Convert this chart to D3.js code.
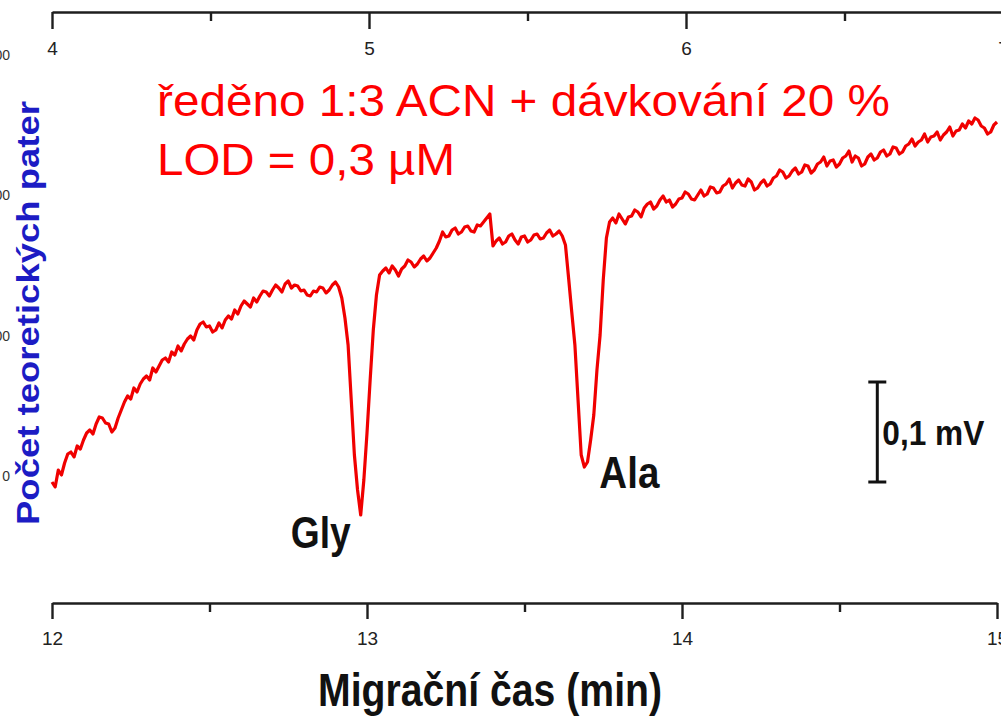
<!DOCTYPE html>
<html>
<head>
<meta charset="utf-8">
<script src="https://cdn.jsdelivr.net/npm/d3@7"></script>
<style>
  body { margin: 0; background: #fff; }
  svg { display: block; font-family: "Liberation Sans", Arial, sans-serif; }
</style>
</head>
<body>
<script>
//migration time of every sample (min)
var sampleTime = [
  12.00,12.01,12.02,12.03,12.04,12.05,12.06,12.07,12.08,12.09,
  12.10,12.11,12.12,12.13,12.14,12.15,12.16,12.17,12.18,12.19,
  12.20,12.21,12.22,12.23,12.24,12.25,12.26,12.27,12.28,12.29,
  12.30,12.31,12.32,12.33,12.34,12.35,12.36,12.37,12.38,12.39,
  12.40,12.41,12.42,12.43,12.44,12.45,12.46,12.47,12.48,12.49,
  12.50,12.51,12.52,12.53,12.54,12.55,12.56,12.57,12.58,12.59,
  12.60,12.61,12.62,12.63,12.64,12.65,12.66,12.67,12.68,12.69,
  12.70,12.71,12.72,12.73,12.74,12.75,12.76,12.77,12.78,12.79,
  12.80,12.81,12.82,12.83,12.84,12.85,12.86,12.87,12.88,12.89,
  12.90,12.91,12.92,12.93,12.94,12.95,12.96,12.97,12.98,12.99,
  13.00,13.01,13.02,13.03,13.04,13.05,13.06,13.07,13.08,13.09,
  13.10,13.11,13.12,13.13,13.14,13.15,13.16,13.17,13.18,13.19,
  13.20,13.21,13.22,13.23,13.24,13.25,13.26,13.27,13.28,13.29,
  13.30,13.31,13.32,13.33,13.34,13.35,13.36,13.37,13.38,13.39,
  13.40,13.41,13.42,13.43,13.44,13.45,13.46,13.47,13.48,13.49,
  13.50,13.51,13.52,13.53,13.54,13.55,13.56,13.57,13.58,13.59,
  13.60,13.61,13.62,13.63,13.64,13.65,13.66,13.67,13.68,13.69,
  13.70,13.71,13.72,13.73,13.74,13.75,13.76,13.77,13.78,13.79,
  13.80,13.81,13.82,13.83,13.84,13.85,13.86,13.87,13.88,13.89,
  13.90,13.91,13.92,13.93,13.94,13.95,13.96,13.97,13.98,13.99,
  14.00,14.01,14.02,14.03,14.04,14.05,14.06,14.07,14.08,14.09,
  14.10,14.11,14.12,14.13,14.14,14.15,14.16,14.17,14.18,14.19,
  14.20,14.21,14.22,14.23,14.24,14.25,14.26,14.27,14.28,14.29,
  14.30,14.31,14.32,14.33,14.34,14.35,14.36,14.37,14.38,14.39,
  14.40,14.41,14.42,14.43,14.44,14.45,14.46,14.47,14.48,14.49,
  14.50,14.51,14.52,14.53,14.54,14.55,14.56,14.57,14.58,14.59,
  14.60,14.61,14.62,14.63,14.64,14.65,14.66,14.67,14.68,14.69,
  14.70,14.71,14.72,14.73,14.74,14.75,14.76,14.77,14.78,14.79,
  14.80,14.81,14.82,14.83,14.84,14.85,14.86,14.87,14.88,14.89,
  14.90,14.91,14.92,14.93,14.94,14.95,14.96,14.97,14.98,14.99,
  15.00
];

//detector signal (microvolt, relative)
var signalUV = [
  121,116,133,128,140,149,151,146,157,154,
  163,170,173,169,179,186,185,180,179,171,
  175,185,193,201,207,204,215,211,219,224,
  227,223,235,231,237,243,245,241,251,248,
  257,252,259,264,267,263,273,279,281,276,
  277,271,273,280,275,283,287,284,293,289,
  297,302,299,296,305,301,307,312,311,307,
  313,318,315,311,319,322,315,318,317,312,
  313,308,307,312,311,316,315,310,313,318,
  321,316,305,285,258,203,148,113,88,123,
  170,223,273,308,328,332,335,330,337,333,
  327,334,337,343,341,336,339,344,347,342,
  345,350,355,362,371,366,367,373,375,369,
  371,376,377,372,371,378,377,381,385,389,
  357,362,365,359,361,367,369,363,359,366,
  367,361,363,368,369,364,365,370,373,367,
  369,372,367,358,325,291,258,203,148,136,
  141,163,188,233,268,323,365,381,385,380,
  389,384,379,386,387,393,391,386,395,399,
  401,394,397,403,407,401,403,396,399,404,
  405,411,409,404,403,408,413,407,409,416,
  415,410,411,417,419,424,415,420,423,418,
  417,424,421,413,415,420,423,417,419,425,
  427,433,431,425,427,432,435,429,431,438,
  437,430,433,439,441,446,437,442,443,436,
  439,445,447,452,441,447,445,437,439,446,
  449,443,445,451,453,447,449,456,455,449,
  451,457,459,464,457,461,463,469,461,466,
  467,471,463,468,471,476,467,472,473,479,
  475,482,479,485,483,477,475,469,471,478,
  481
];

//axis ticks
var bottomTicks = [12, 13, 14, 15];
var bottomMinor = [12.5, 13.5, 14.5];
var topTicks = [4, 5, 6, 7];
var topMinor = [4.5, 5.5, 6.5];
var leftTicks = [1500, 1000, 500, 0];

//peak labels
var peakNames = ['Gly', 'Ala'];
var peakTimes = [12.98, 13.69];
var peakSignal = [88, 136];

//texts
var titleLines = ['ředěno 1:3 ACN + dávkování 20 %', 'LOD = 0,3 µM'];
var yTitle = 'Počet teoretických pater';
var xTitle = 'Migrační čas (min)';
var scaleBarLabel = '0,1 mV';
var scaleBarUV = 100;

var width = 1001, height = 719;

var svg = d3.select("body").append("svg")
    .attr("width", width)
    .attr("height", height);

// scales
var x = d3.scaleLinear().domain([12, 15]).range([52, 997]);
var xTop = d3.scaleLinear().domain([4, 7]).range([52, 1003]);
var y = d3.scaleLinear().domain([0, 600]).range([603, 3]);
var yLeft = d3.scaleLinear().domain([0, 1500]).range([476, 55]);

var axisColor = '#1e1e1e';

function styleAxis(g, fontSize) {
    g.attr("font-size", fontSize).attr("font-family", "'Liberation Sans', Arial, sans-serif");
    g.select(".domain").attr("stroke", axisColor).attr("stroke-width", 2.4);
    g.selectAll(".tick line").attr("stroke", axisColor).attr("stroke-width", 2.4);
    g.selectAll(".tick text").attr("fill", "#222");
}

//bottom axis
var gBottom = svg.append("g").attr("transform", "translate(0,603)")
    .call(d3.axisBottom(x).tickValues(bottomTicks).tickFormat(d3.format("d"))
        .tickSize(16).tickSizeOuter(0).tickPadding(13));
styleAxis(gBottom, 19);
svg.append("g").attr("transform", "translate(0,603)")
    .call(d3.axisBottom(x).tickValues(bottomMinor).tickFormat("").tickSize(9).tickSizeOuter(0))
    .call(function (g) { g.select(".domain").remove(); styleAxis(g, 10); });

//top axis (ticks pointing down into the plot)
var gTop = svg.append("g").attr("transform", "translate(0,12)")
    .call(d3.axisBottom(xTop).tickValues(topTicks).tickFormat(d3.format("d"))
        .tickSize(17).tickSizeOuter(0).tickPadding(13));
styleAxis(gTop, 19);
svg.append("g").attr("transform", "translate(0,12)")
    .call(d3.axisBottom(xTop).tickValues(topMinor).tickFormat("").tickSize(9).tickSizeOuter(0))
    .call(function (g) { g.select(".domain").remove(); styleAxis(g, 10); });

//left axis, only its cut off labels are visible
var gLeft = svg.append("g").attr("transform", "translate(10,0)")
    .call(d3.axisLeft(yLeft).tickValues(leftTicks).tickSize(0).tickPadding(0));
gLeft.select(".domain").remove();
gLeft.attr("font-size", 14).attr("font-family", "'Liberation Sans', Arial, sans-serif");
gLeft.selectAll(".tick text").attr("fill", "#333");

//y title
svg.append("text")
    .attr("transform", "translate(39,313) rotate(-90)")
    .attr("text-anchor", "middle")
    .attr("fill", "#1c1cc4")
    .style("font-size", "32px")
    .style("font-weight", "bold")
    .attr("textLength", 424)
    .attr("lengthAdjust", "spacingAndGlyphs")
    .text(yTitle);

//x title
svg.append("text")
    .attr("x", 490).attr("y", 706)
    .attr("text-anchor", "middle")
    .attr("fill", "#111")
    .style("font-size", "46px")
    .style("font-weight", "bold")
    .attr("textLength", 344)
    .attr("lengthAdjust", "spacingAndGlyphs")
    .text(xTitle);

//the trace
var traceData = sampleTime.map(function (t, i) { return { t: t, v: signalUV[i] }; });
var line = d3.line()
    .x(function (d) { return x(d.t); })
    .y(function (d) { return y(d.v); });

svg.append("path")
    .datum(traceData)
    .attr("fill", "none")
    .attr("stroke", "#f00000")
    .attr("stroke-width", 3.2)
    .attr("stroke-linejoin", "round")
    .attr("d", line);

//red annotation text
var titleLens = [733, 298];
svg.selectAll(".title")
    .data(titleLines)
    .enter()
    .append("text")
    .attr("class", "title")
    .attr("x", 157)
    .attr("y", function (d, i) { return 116 + i * 59; })
    .attr("fill", "#ff0000")
    .style("font-size", "45px")
    .attr("textLength", function (d, i) { return titleLens[i]; })
    .attr("lengthAdjust", "spacingAndGlyphs")
    .text(function (d) { return d; });

//peak labels
var peakDx = [-10, 15], peakDy = [33, 21], peakAnchor = ['end', 'start'];
svg.selectAll(".peak")
    .data(peakNames)
    .enter()
    .append("text")
    .attr("class", "peak")
    .attr("x", function (d, i) { return x(peakTimes[i]) + peakDx[i]; })
    .attr("y", function (d, i) { return y(peakSignal[i]) + peakDy[i]; })
    .attr("text-anchor", function (d, i) { return peakAnchor[i]; })
    .attr("fill", "#111")
    .style("font-size", "44px")
    .style("font-weight", "bold")
    .attr("textLength", 60)
    .attr("lengthAdjust", "spacingAndGlyphs")
    .text(function (d) { return d; });

//scale bar 0,1 mV
var barX = x(14.62), barY0 = y(121), barY1 = y(121 + scaleBarUV);
var bar = svg.append("g").attr("stroke", "#111").attr("stroke-width", 3);
bar.append("line").attr("x1", barX).attr("x2", barX).attr("y1", barY0).attr("y2", barY1);
bar.append("line").attr("x1", barX - 9).attr("x2", barX + 9).attr("y1", barY0).attr("y2", barY0);
bar.append("line").attr("x1", barX - 9).attr("x2", barX + 9).attr("y1", barY1).attr("y2", barY1);

svg.append("text")
    .attr("x", barX + 5)
    .attr("y", (barY0 + barY1) / 2 + 13)
    .attr("fill", "#111")
    .style("font-size", "35px")
    .style("font-weight", "bold")
    .attr("textLength", 102)
    .attr("lengthAdjust", "spacingAndGlyphs")
    .text(scaleBarLabel);
</script>
</body>
</html>
